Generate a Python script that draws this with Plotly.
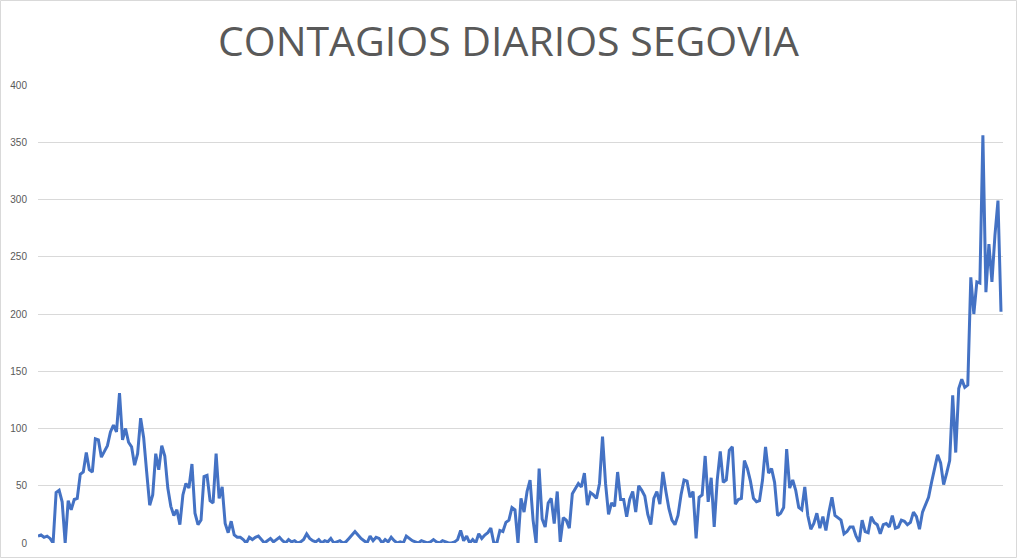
import plotly.graph_objects as go

title_text = "CONTAGIOS DIARIOS SEGOVIA"
y_ticks = [0, 50, 100, 150, 200, 250, 300, 350, 400]

# Daily new cases, one value per day
cases = [
    6, 7, 5, 6, 4, 0, 44, 46, 36, 0,
    37, 29, 38, 39, 60, 62, 79, 64, 62, 91,
    90, 75, 80, 85, 97, 103, 97, 131, 90, 100,
    88, 84, 68, 78, 109, 92, 62, 33, 42, 78,
    64, 85, 76, 48, 32, 24, 29, 16, 42, 52,
    48, 69, 26, 16, 20, 58, 59, 37, 35, 78,
    39, 49, 17, 9, 19, 7, 5, 5, 3, 0,
    5, 3, 5, 6, 3, 0, 2, 4, 1, 3,
    5, 2, 0, 3, 1, 2, 0, 1, 3, 8,
    4, 2, 1, 3, 0, 2, 1, 4, 0, 1,
    2, 0, 1, 4, 7, 10, 7, 4, 2, 0,
    6, 2, 5, 4, 0, 3, 1, 5, 2, 0,
    1, 0, 6, 4, 2, 1, 0, 2, 1, 0,
    1, 3, 1, 0, 2, 1, 0, 0, 1, 3,
    11, 2, 6, 0, 3, 0, 8, 4, 7, 9,
    13, 0, 0, 11, 10, 18, 20, 31, 29, 0,
    39, 27, 45, 55, 20, 0, 65, 21, 14, 35,
    39, 17, 45, 1, 22, 20, 13, 43, 48, 52,
    49, 61, 33, 44, 42, 39, 52, 93, 52, 25,
    35, 32, 62, 38, 38, 23, 38, 45, 27, 50,
    46, 41, 25, 16, 39, 45, 34, 62, 45, 30,
    20, 16, 24, 42, 55, 54, 40, 45, 4, 40,
    42, 76, 36, 57, 14, 55, 80, 53, 55, 81,
    84, 34, 38, 39, 72, 65, 54, 39, 36, 37,
    55, 84, 61, 65, 53, 24, 26, 31, 82, 48,
    55, 46, 31, 29, 49, 24, 12, 17, 26, 13,
    23, 11, 27, 40, 24, 22, 20, 8, 10, 14,
    14, 6, 1, 20, 10, 9, 23, 18, 16, 8,
    16, 17, 14, 24, 13, 14, 20, 19, 16, 18,
    27, 23, 12, 27, 33, 40, 53, 66, 77, 70,
    51, 61, 72, 129, 79, 135, 143, 136, 138, 232,
    200, 228, 227, 356, 219, 261, 228, 269, 299, 202,
]
days = list(range(len(cases)))

fig = go.Figure()
fig.add_trace(go.Scatter(
    x=days, y=cases, mode="lines",
    line=dict(color="#4472C4", width=3, shape="linear"),
    hoverinfo="skip", showlegend=False,
))

n = len(cases)
fig.update_layout(
    width=1017, height=558,
    margin=dict(l=38, r=14, t=85, b=15, autoexpand=False),
    paper_bgcolor="white", plot_bgcolor="white",
    title=dict(text=title_text, x=0.5, xanchor="center", y=0.925, yanchor="middle",
               font=dict(family="Open Sans, sans-serif", size=41, color="#595959")),
    xaxis=dict(range=[0, (n - 1) * 965 / 963], showgrid=False, showticklabels=False,
               zeroline=False, showline=False, ticks="", automargin=False),
    yaxis=dict(range=[0, 400], tickvals=y_ticks, showgrid=True, gridcolor="#D9D9D9",
               gridwidth=1, zeroline=False, showline=False, ticks="", automargin=False,
               tickfont=dict(family="Liberation Sans, sans-serif", size=10, color="#595959"),
               ticklabelstandoff=10),
    shapes=[dict(type="rect", xref="paper", yref="paper",
                 x0=-37.5 / 965, x1=1 + 13.5 / 965, y0=-14.5 / 458, y1=1 + 84.5 / 458,
                 line=dict(color="#D9D9D9", width=1), layer="below")],
)

fig.write_html("out.html", config={"displayModeBar": False, "staticPlot": True},
               post_script="document.body.style.margin='0';")
